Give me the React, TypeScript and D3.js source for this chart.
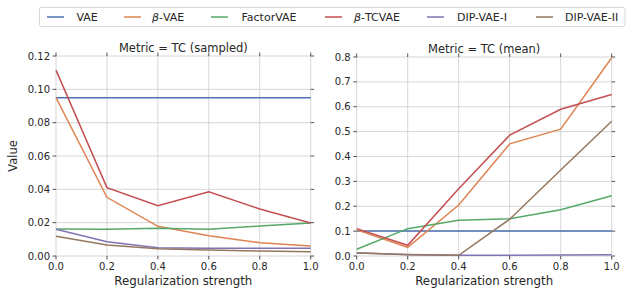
import React from "react";
import * as d3 from "d3";

const xs = [0.0, 0.2, 0.4, 0.6, 0.8, 1.0];
const seriesNames = ["VAE", "β-VAE", "FactorVAE", "β-TCVAE", "DIP-VAE-I", "DIP-VAE-II"];
const colors = ["#4c72b0", "#dd8452", "#55a868", "#c44e52", "#8172b3", "#937860"];

const sampledVAE = [0.095, 0.095, 0.095, 0.095, 0.095, 0.095];
const sampledBetaVAE = [0.095, 0.0352, 0.0178, 0.0122, 0.008, 0.006];
const sampledFactorVAE = [0.0162, 0.016, 0.0166, 0.016, 0.018, 0.0198];
const sampledBetaTCVAE = [0.1115, 0.041, 0.0302, 0.0386, 0.0282, 0.0198];
const sampledDIP1 = [0.016, 0.0086, 0.005, 0.0046, 0.0046, 0.0046];
const sampledDIP2 = [0.0118, 0.0066, 0.0044, 0.0036, 0.003, 0.0025];

const meanVAE = [0.101, 0.101, 0.101, 0.101, 0.101, 0.101];
const meanBetaVAE = [0.105, 0.035, 0.205, 0.451, 0.51, 0.797];
const meanFactorVAE = [0.027, 0.11, 0.144, 0.15, 0.186, 0.242];
const meanBetaTCVAE = [0.11, 0.043, 0.27, 0.486, 0.59, 0.649];
const meanDIP1 = [0.013, 0.005, 0.003, 0.003, 0.004, 0.005];
const meanDIP2 = [0.012, 0.006, 0.003, 0.148, 0.346, 0.542];

const leftTicks = [0.0, 0.02, 0.04, 0.06, 0.08, 0.1, 0.12];
const rightTicks = [0.0, 0.1, 0.2, 0.3, 0.4, 0.5, 0.6, 0.7, 0.8];
const xTicks = [0.0, 0.2, 0.4, 0.6, 0.8, 1.0];

const FONT = "DejaVu Sans, sans-serif";
const TXT = "#262626";

type PanelProps = {
  x0: number; x1: number; y0: number; y1: number;
  domain: [number, number]; yTicks: number[]; fmt: (v: number) => string;
  data: number[][]; title: string;
};

function Panel({ x0, x1, y0, y1, domain, yTicks, fmt, data, title }: PanelProps) {
  const xScale = d3.scaleLinear().domain([0, 1]).range([x0, x1]);
  const yScale = d3.scaleLinear().domain(domain).range([y1, y0]);
  const line = d3.line<number>().x((_, i) => xScale(xs[i])).y((d) => yScale(d));
  const tl = 3.5;
  return (
    <g>
      {xTicks.map((t) => (
        <line key={"gx" + t} x1={xScale(t)} x2={xScale(t)} y1={y0} y2={y1} stroke="#cccccc" strokeWidth={0.8} />
      ))}
      {yTicks.map((t) => (
        <line key={"gy" + t} x1={x0} x2={x1} y1={yScale(t)} y2={yScale(t)} stroke="#cccccc" strokeWidth={0.8} />
      ))}
      {data.map((d, i) => (
        <path key={"s" + i} d={line(d) || ""} fill="none" stroke={colors[i]} strokeWidth={1.5} />
      ))}
      {xTicks.map((t) => (
        <g key={"tx" + t}>
          <line x1={xScale(t)} x2={xScale(t)} y1={y1} y2={y1 + tl} stroke={TXT} strokeWidth={0.8} />
          <line x1={xScale(t)} x2={xScale(t)} y1={y0} y2={y0 - tl} stroke={TXT} strokeWidth={0.8} />
          <text x={xScale(t)} y={y1 + 14} textAnchor="middle" fontSize={10} fill={TXT} fontFamily={FONT}>{t.toFixed(1)}</text>
        </g>
      ))}
      {yTicks.map((t) => (
        <g key={"ty" + t}>
          <line x1={x0} x2={x0 - tl} y1={yScale(t)} y2={yScale(t)} stroke={TXT} strokeWidth={0.8} />
          <line x1={x1} x2={x1 + tl} y1={yScale(t)} y2={yScale(t)} stroke={TXT} strokeWidth={0.8} />
          <text x={x0 - 6} y={yScale(t)} dy="0.35em" textAnchor="end" fontSize={10} fill={TXT} fontFamily={FONT}>{fmt(t)}</text>
        </g>
      ))}
      <text x={(x0 + x1) / 2} y={y0 - 4} textAnchor="middle" fontSize={11.5} fill={TXT} fontFamily={FONT}>{title}</text>
      <text x={(x0 + x1) / 2} y={y1 + 28.5} textAnchor="middle" fontSize={11.8} fill={TXT} fontFamily={FONT}>Regularization strength</text>
    </g>
  );
}

function LegendLabel({ name }: { name: string }) {
  if (name.startsWith("β")) {
    return (<><tspan fontStyle="italic">β</tspan><tspan>{name.slice(1)}</tspan></>);
  }
  return <>{name}</>;
}

export default function App() {
  const legendLineX = [47, 124, 211, 325, 427, 536];
  const legendTextX = [76.5, 152, 241.5, 354, 457, 565];
  return (
    <svg width={629} height={291} style={{ display: "block", position: "absolute", left: 0, top: 0 }}>
      <rect x={0} y={0} width={629} height={291} fill="white" />
      <Panel x0={56} x1={310.7} y0={56} y1={256} domain={[0, 0.12]} yTicks={leftTicks}
        fmt={(v) => v.toFixed(2)}
        data={[sampledVAE, sampledBetaVAE, sampledFactorVAE, sampledBetaTCVAE, sampledDIP1, sampledDIP2]}
        title="Metric = TC (sampled)" />
      <Panel x0={356.7} x1={611.7} y0={57} y1={256} domain={[0, 0.8]} yTicks={rightTicks}
        fmt={(v) => v.toFixed(1)}
        data={[meanVAE, meanBetaVAE, meanFactorVAE, meanBetaTCVAE, meanDIP1, meanDIP2]}
        title="Metric = TC (mean)" />
      <text transform="translate(17,156) rotate(-90)" textAnchor="middle" fontSize={11.5} fill={TXT} fontFamily={FONT}>Value</text>
      <rect x={39.5} y={7.5} width={585.5} height={19} fill="white" stroke="#cccccc" strokeWidth={0.8} rx={2} />
      {seriesNames.map((n, i) => (
        <g key={n}>
          <line x1={legendLineX[i]} x2={legendLineX[i] + 17} y1={17} y2={17} stroke={colors[i]} strokeWidth={1.5} />
          <text x={legendTextX[i]} y={17} dy="0.35em" fontSize={11} fill={TXT} fontFamily={FONT}><LegendLabel name={n} /></text>
        </g>
      ))}
    </svg>
  );
}
